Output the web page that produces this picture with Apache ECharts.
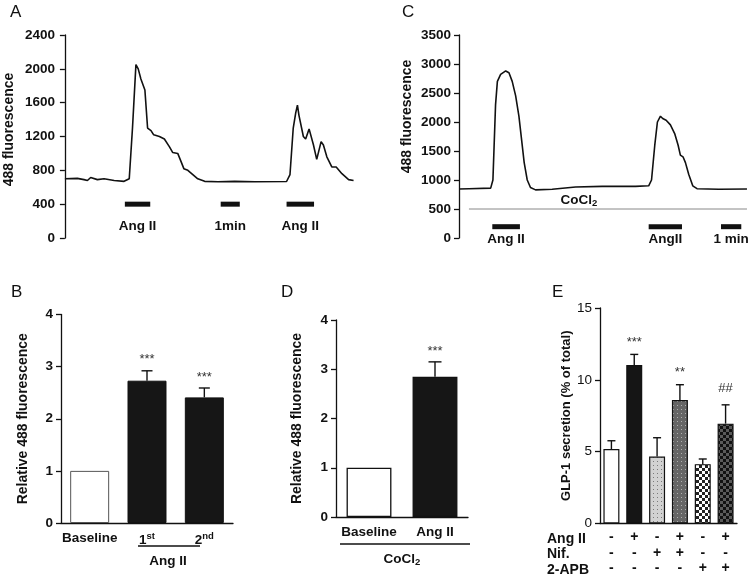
<!DOCTYPE html>
<html>
<head>
<meta charset="utf-8">
<script src="https://cdn.jsdelivr.net/npm/echarts@6/dist/echarts.min.js"></script>
<style>
  html, body { margin: 0; padding: 0; background: #fff; }
  #main { width: 750px; height: 576px; }
</style>
</head>
<body>
<div id="main"></div>
<script>
// ---- data ----
// A: trace (time in min, fluorescence)
var traceA = [
  [0, 700], [0.65, 705], [1.0, 690], [1.18, 680], [1.35, 715], [1.7, 690], [2.05, 700], [2.58, 680],
  [3.1, 670], [3.37, 700], [3.54, 1300], [3.72, 2050], [3.84, 2000], [3.98, 1880], [4.07, 1900],
  [4.19, 1750], [4.33, 1300], [4.51, 1270], [4.65, 1220], [4.95, 1200], [5.21, 1170], [5.47, 1080],
  [5.65, 1010], [5.91, 1000], [6.09, 900], [6.23, 820], [6.44, 800], [6.7, 750], [6.96, 700],
  [7.32, 670], [8.02, 665], [8.89, 670], [9.95, 665], [11.61, 668], [11.79, 750], [11.96, 1300],
  [12.09, 1480], [12.18, 1570], [12.26, 1450], [12.35, 1470], [12.49, 1200], [12.61, 1170],
  [12.79, 1290], [13.02, 1100], [13.19, 930], [13.42, 1140], [13.54, 1100], [13.72, 960],
  [13.98, 840], [14.21, 840], [14.51, 760], [14.86, 690], [15.12, 680]
];
// stimulus bars: [from, to, level, label]
var stimA = [[3.14, 4.47, 400, 'Ang II'], [8.16, 9.16, 400, '1min'], [11.61, 13.05, 400, 'Ang II']];

// C: trace under CoCl2
var traceC = [
  [0, 845], [0.49, 850], [1.56, 860], [1.67, 1000], [1.8, 2300], [1.89, 2700], [2.05, 2820],
  [2.3, 2880], [2.46, 2850], [2.62, 2700], [2.79, 2450], [2.95, 2100], [3.08, 1700], [3.21, 1300],
  [3.36, 1000], [3.52, 870], [3.77, 830], [4.59, 840], [5.74, 880], [7.05, 890], [8.69, 890],
  [9.34, 900], [9.48, 1000], [9.64, 1600], [9.77, 2000], [9.92, 2100], [10.03, 2060], [10.2, 2030],
  [10.41, 1950], [10.62, 1800], [10.79, 1600], [10.9, 1430], [11.03, 1400], [11.15, 1300],
  [11.31, 1100], [11.51, 900], [11.72, 850], [12.79, 840], [14.18, 845]
];
var stimC = [[1.64, 3.0, 195, 'Ang II'], [9.34, 10.98, 195, 'AngII'], [12.9, 13.9, 195, '1 min']];
var cocl2Line = [[0.49, 500], [14.18, 500]];

// B
var catB = ['Baseline', '1{sup|st}', '2{sup|nd}'];
var meanB = [1.0, 2.73, 2.41];
var topB = [1.0, 2.92, 2.59];
var sigB = ['', '***', '***'];

// D
var catD = ['Baseline', 'Ang II'];
var meanD = [1.0, 2.85];
var topD = [1.0, 3.15];
var sigD = ['', '***'];

// E
var angII = ['-', '+', '-', '+', '-', '+'];
var nif = ['-', '-', '+', '+', '-', '-'];
var apb = ['-', '-', '-', '-', '+', '+'];
var meanE = [5.18, 11.03, 4.66, 8.6, 4.13, 6.95];
var topE = [5.76, 11.77, 5.97, 9.66, 4.49, 8.26];
var sigE = ['', '***', '', '**', '', '##'];

var FONT = 'Liberation Sans, Arial, sans-serif';
var INK = '#111';

function pattern(bg, fg, kind) {
  var c = document.createElement('canvas');
  var ctx = c.getContext('2d');
  if (kind === 'dots') {
    c.width = 4; c.height = 4;
    ctx.fillStyle = bg; ctx.fillRect(0, 0, 4, 4);
    ctx.fillStyle = fg; ctx.fillRect(1, 1, 1, 1);
  } else {
    c.width = 6; c.height = 6;
    ctx.fillStyle = bg; ctx.fillRect(0, 0, 6, 6);
    ctx.fillStyle = fg; ctx.fillRect(0, 0, 3, 3); ctx.fillRect(3, 3, 3, 3);
  }
  return { image: c, repeat: 'repeat' };
}

var fillE = [
  '#ffffff', '#151515',
  pattern('#d2d2d2', '#7a7a7a', 'dots'),
  pattern('#666666', '#b0b0b0', 'dots'),
  pattern('#ffffff', '#222222', 'check'),
  pattern('#5a5a5a', '#111111', 'check')
];

var chart = echarts.init(document.getElementById('main'));

function yAx(grid, max, interval, name, gap, bold, pad, nameSize) {
  return {
    type: 'value', gridIndex: grid, min: 0, max: max, interval: interval,
    name: name, nameLocation: 'middle', nameGap: gap,
    nameTextStyle: { fontFamily: FONT, fontSize: nameSize || 14, fontWeight: 'bold', color: INK, padding: pad || 0 },
    axisLine: { show: true, lineStyle: { color: INK, width: 1.3 } },
    axisTick: { show: true, length: 5, lineStyle: { color: INK, width: 1.3 } },
    axisLabel: {
      fontFamily: FONT, fontSize: 13.5, fontWeight: bold ? 'bold' : 'normal', color: INK, margin: 8,
      formatter: function (v) { return String(v); }
    },
    splitLine: { show: false }
  };
}

function catAx(grid, data, extra) {
  var a = {
    type: 'category', gridIndex: grid, data: data,
    axisLine: { show: true, lineStyle: { color: INK, width: 1.3 } },
    axisTick: { show: false },
    axisLabel: {
      fontFamily: FONT, fontSize: 13.5, fontWeight: 'bold', color: INK, margin: 8, interval: 0,
      rich: { sup: { fontSize: 9.5, fontWeight: 'bold', fontFamily: FONT, color: INK, padding: [0, 0, 8, 0] } }
    }
  };
  if (extra) Object.assign(a.axisLabel, extra);
  return a;
}

// error bars + significance marks
function errSeries(x, y, means, tops, sigs, capW, sigGap) {
  var data = means.map(function (m, i) { return [i, m, tops[i], sigs[i]]; });
  return {
    type: 'custom', xAxisIndex: x, yAxisIndex: y, data: data, z: 5,
    renderItem: function (params, api) {
      var lo = api.coord([api.value(0), api.value(1)]);
      var hi = api.coord([api.value(0), api.value(2)]);
      var kids = [];
      if (capW > 0 && api.value(2) > api.value(1)) {
        kids.push({ type: 'line', shape: { x1: lo[0], y1: lo[1], x2: hi[0], y2: hi[1] }, style: { stroke: INK, lineWidth: 1.4 } });
        kids.push({ type: 'line', shape: { x1: hi[0] - capW / 2, y1: hi[1], x2: hi[0] + capW / 2, y2: hi[1] }, style: { stroke: INK, lineWidth: 1.4 } });
      }
      var s = data[params.dataIndex][3];
      if (s) {
        kids.push({ type: 'text', style: { text: s, x: hi[0], y: hi[1] - sigGap, align: 'center', verticalAlign: 'middle', font: '13px ' + FONT, fill: '#333' } });
      }
      return { type: 'group', children: kids };
    }
  };
}

function stimSeries(x, y, data, labelGap) {
  return {
    type: 'custom', xAxisIndex: x, yAxisIndex: y, data: data, clip: false,
    renderItem: function (params, api) {
      var a = api.coord([api.value(0), api.value(2)]);
      var b = api.coord([api.value(1), api.value(2)]);
      return {
        type: 'group', children: [
          { type: 'rect', shape: { x: a[0], y: a[1] - 2.5, width: b[0] - a[0], height: 5 }, style: { fill: INK } },
          { type: 'text', style: { text: data[params.dataIndex][3], x: (a[0] + b[0]) / 2, y: a[1] + labelGap, align: 'center', verticalAlign: 'middle', font: 'bold 13.5px ' + FONT, fill: INK } }
        ]
      };
    }
  };
}

var option = {
  animation: false,
  backgroundColor: '#fff',
  grid: [
    { left: 63, top: 35, width: 294, height: 203 },
    { left: 459, top: 35, width: 290, height: 203 },
    { left: 61, top: 314.5, width: 172, height: 208.5 },
    { left: 336, top: 320, width: 132, height: 197 },
    { left: 600, top: 308, width: 137, height: 218 }
  ],
  xAxis: [
    { type: 'value', gridIndex: 0, min: -0.1, max: 15.3, show: false },
    { type: 'value', gridIndex: 1, min: 0, max: 14.28, show: false },
    catAx(2, catB),
    catAx(3, catD),
    catAx(4, meanE.map(function (v, i) { return angII[i] + '\n' + nif[i] + '\n' + apb[i]; }),
      { fontSize: 14, lineHeight: 15.5, margin: 6 })
  ],
  yAxis: [
    yAx(0, 2400, 400, '488 fluorescence', 47, true, [0, 0, 0, 14]),
    yAx(1, 3500, 500, '488 fluorescence', 45, true, [0, 0, 0, 40]),
    yAx(2, 4, 1, 'Relative 488 fluorescence', 31, true),
    yAx(3, 4, 1, 'Relative 488 fluorescence', 32, true),
    yAx(4, 15, 5, 'GLP-1 secretion (% of total)', 21, false, 0, 13)
  ],
  series: [
    { type: 'line', xAxisIndex: 0, yAxisIndex: 0, data: traceA, showSymbol: false, lineStyle: { color: INK, width: 1.6 } },
    stimSeries(0, 0, stimA, 22),
    { type: 'line', xAxisIndex: 1, yAxisIndex: 1, data: traceC, showSymbol: false, lineStyle: { color: INK, width: 1.6 } },
    {
      type: 'line', xAxisIndex: 1, yAxisIndex: 1, data: cocl2Line, showSymbol: false,
      lineStyle: { color: '#888', width: 1 },
      markPoint: {
        symbolSize: 0, data: [{ coord: [5.9, 655] }],
        label: {
          show: true, formatter: 'CoCl{sub|2}', fontFamily: FONT, fontSize: 13.5, fontWeight: 'bold', color: INK,
          rich: { sub: { fontSize: 9.5, fontWeight: 'bold', fontFamily: FONT, color: INK, padding: [7, 0, 0, 0] } }
        }
      }
    },
    stimSeries(1, 1, stimC, 13),
    {
      type: 'bar', xAxisIndex: 2, yAxisIndex: 2, barWidth: '68%',
      data: meanB.map(function (v, i) { return { value: v, itemStyle: { color: i === 0 ? '#fff' : '#161616', borderColor: i === 0 ? '#555' : INK, borderWidth: 1 } }; })
    },
    errSeries(2, 2, meanB, topB, sigB, 11, 11),
    {
      type: 'bar', xAxisIndex: 3, yAxisIndex: 3, barWidth: '68%',
      data: meanD.map(function (v, i) { return { value: v, itemStyle: { color: i === 0 ? '#fff' : '#161616', borderColor: INK, borderWidth: 1.3 } }; })
    },
    errSeries(3, 3, meanD, topD, sigD, 13, 10),
    {
      type: 'bar', xAxisIndex: 4, yAxisIndex: 4, barWidth: '70%',
      data: meanE.map(function (v, i) { return { value: v, itemStyle: { color: fillE[i], borderColor: INK, borderWidth: 1.2 } }; })
    },
    errSeries(4, 4, meanE, topE, ['', '***', '', '**', '', ''], 8, 12),
    errSeries(4, 4, meanE, topE, sigE.map(function (s) { return s === '##' ? s : ''; }), 0, 16)
  ],
  graphic: [
    { type: 'text', left: 10, top: 4, style: { text: 'A', font: '17px ' + FONT, fill: INK } },
    { type: 'text', left: 402, top: 4, style: { text: 'C', font: '17px ' + FONT, fill: INK } },
    { type: 'text', left: 11, top: 284, style: { text: 'B', font: '17px ' + FONT, fill: INK } },
    { type: 'text', left: 281, top: 284, style: { text: 'D', font: '17px ' + FONT, fill: INK } },
    { type: 'text', left: 552, top: 284, style: { text: 'E', font: '17px ' + FONT, fill: INK } },
    // B bracket
    { type: 'line', shape: { x1: 138, y1: 546, x2: 200, y2: 546 }, style: { stroke: INK, lineWidth: 1.3 } },
    { type: 'text', x: 168, y: 561, style: { text: 'Ang II', align: 'center', verticalAlign: 'middle', font: 'bold 13.5px ' + FONT, fill: INK } },
    // D bracket
    { type: 'line', shape: { x1: 340, y1: 544, x2: 470, y2: 544 }, style: { stroke: INK, lineWidth: 1.3 } },
    {
      type: 'text', x: 402, y: 559, style: {
        text: 'CoCl{sub|2}', align: 'center', verticalAlign: 'middle', font: 'bold 13.5px ' + FONT, fill: INK,
        rich: { sub: { fontSize: 9.5, fontWeight: 'bold', fontFamily: FONT, fill: INK, padding: [7, 0, 0, 0] } }
      }
    },
    // E treatment rows
    { type: 'text', x: 547, y: 539, style: { text: 'Ang II', verticalAlign: 'middle', font: 'bold 14px ' + FONT, fill: INK } },
    { type: 'text', x: 547, y: 554.5, style: { text: 'Nif.', verticalAlign: 'middle', font: 'bold 14px ' + FONT, fill: INK } },
    { type: 'text', x: 547, y: 570, style: { text: '2-APB', verticalAlign: 'middle', font: 'bold 14px ' + FONT, fill: INK } }
  ]
};

chart.setOption(option);
</script>
</body>
</html>
